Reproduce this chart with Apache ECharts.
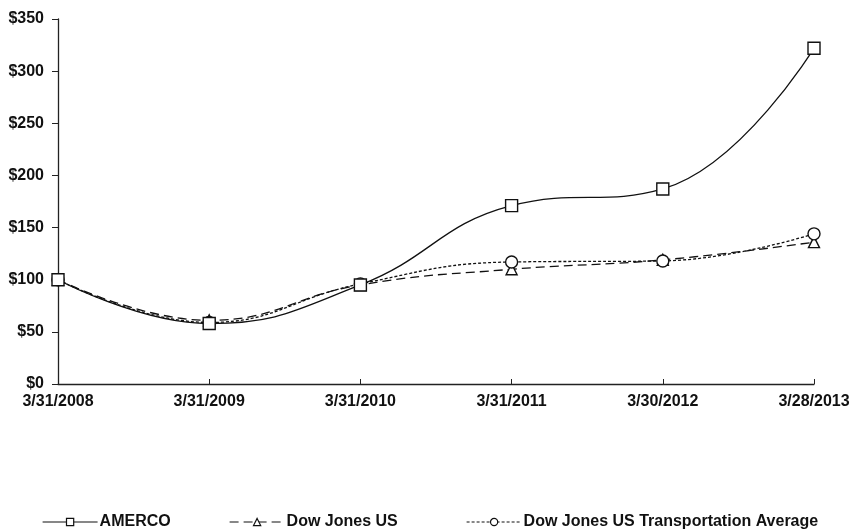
<!DOCTYPE html>
<html>
<head>
<meta charset="utf-8">
<script src="https://cdn.jsdelivr.net/npm/echarts@6/dist/echarts.min.js"></script>
<style>
  html, body { margin: 0; padding: 0; background: #fff; }
  #chart { width: 854px; height: 529px; }
</style>
</head>
<body>
<div id="chart"></div>
<script>
// Cumulative total return of $100 invested, by fiscal year end
const dates = ['3/31/2008', '3/31/2009', '3/31/2010', '3/31/2011', '3/30/2012', '3/28/2013'];
const amerco = [100, 58, 95, 171, 187, 322];
const dowJonesUS = [100, 61, 95, 110, 119, 136];
const djTransport = [100, 59, 96, 117, 118, 144];
const yTicks = [0, 50, 100, 150, 200, 250, 300, 350];
const seriesNames = ['AMERCO', 'Dow Jones US', 'Dow Jones US Transportation Average'];

const font = '"Liberation Sans", Arial, sans-serif';

const chart = echarts.init(document.getElementById('chart'), null, { renderer: 'canvas' });

function lineSeries(name, data, symbol, size, dash) {
  return {
    name: name,
    type: 'line',
    data: data,
    smooth: 0.45,
    symbol: symbol,
    symbolSize: size,
    showAllSymbol: true,
    lineStyle: { color: '#111', width: 1.3, type: dash },
    itemStyle: { color: '#fff', borderColor: '#111', borderWidth: 1.4 },
    emphasis: { disabled: true },
    z: symbol === 'rect' ? 3 : 2
  };
}

function legendAt(left, name) {
  return {
    bottom: -1,
    left: left,
    padding: 0,
    itemWidth: 55,
    itemHeight: 9,
    itemGap: 4,
    itemStyle: { borderWidth: 1.2 },
    lineStyle: { width: 1.2 },
    textStyle: { color: '#111', fontFamily: font, fontWeight: 'bold', fontSize: 16, padding: [0, 0, 0, -3] },
    data: [name]
  };
}

chart.setOption({
  animation: false,
  backgroundColor: '#fff',
  grid: { left: 58, right: 40, top: 19, bottom: 145, containLabel: false },
  xAxis: {
    type: 'category',
    data: dates,
    boundaryGap: false,
    axisLine: { lineStyle: { color: '#222', width: 1.3 } },
    axisTick: { inside: true, length: 5, lineStyle: { color: '#222' } },
    axisLabel: {
      color: '#111', fontFamily: font, fontWeight: 'bold', fontSize: 16,
      margin: 10, interval: 0, showMaxLabel: true, showMinLabel: true
    },
    splitLine: { show: false }
  },
  yAxis: {
    type: 'value',
    min: yTicks[0],
    max: yTicks[yTicks.length - 1],
    interval: 50,
    axisLine: { show: true, lineStyle: { color: '#222', width: 1.3 } },
    axisTick: { show: true, length: 6, lineStyle: { color: '#222' } },
    axisLabel: {
      color: '#111', fontFamily: font, fontWeight: 'bold', fontSize: 16, margin: 14,
      formatter: v => '$' + v
    },
    splitLine: { show: false }
  },
  legend: [
    legendAt(42, seriesNames[0]),
    legendAt(229, seriesNames[1]),
    legendAt(466, seriesNames[2])
  ],
  series: [
    lineSeries(seriesNames[0], amerco, 'rect', 12, 'solid'),
    lineSeries(seriesNames[1], dowJonesUS, 'triangle', 11, [9, 5]),
    lineSeries(seriesNames[2], djTransport, 'circle', 12, [3, 2])
  ]
});
</script>
</body>
</html>
